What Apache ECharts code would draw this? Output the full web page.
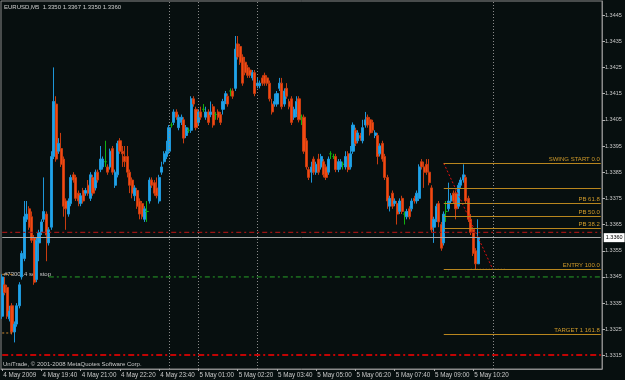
<!DOCTYPE html>
<html><head><meta charset="utf-8">
<script src="https://cdn.jsdelivr.net/npm/echarts@6/dist/echarts.min.js"></script>
<style>html,body{margin:0;padding:0;background:#070f0f;}#c{width:625px;height:380px;}</style>
</head><body><div id="c"></div>
<script>
// ---- data ----
const tickLabels = ['4 May 2009','4 May 19:40','4 May 21:00','4 May 22:20','4 May 23:40','5 May 01:00','5 May 02:20','5 May 03:40','5 May 05:00','5 May 06:20','5 May 07:40','5 May 09:00','5 May 10:20'];
const priceTicks = [1.3315,1.3325,1.3335,1.3345,1.3355,1.3365,1.3375,1.3385,1.3395,1.3405,1.3415,1.3425,1.3435,1.3445];

const openP = [1.3330,1.3342,1.3341,1.3329,1.3334,1.3324,1.3327,1.3334,1.3345,1.3352,1.3367,1.3371,1.3368,1.3360,1.3344,1.3358,1.3362,1.3367,1.3369,1.3358,
1.3364,1.3391,1.3411,1.3393,1.3394,1.3390,1.3374,1.3369,1.3373,1.3384,1.3383,1.3377,1.3373,1.3378,1.3377,1.3380,1.3375,1.3383,1.3379,1.3385,
1.3386,1.3387,1.3389,1.3387,1.3387,1.3394,1.3380,1.3384,1.3397,1.3393,1.3391,1.3391,1.3385,1.3382,1.3376,1.3378,1.3374,1.3373,1.3367,1.3370,
1.3374,1.3382,1.3381,1.3379,1.3374,1.3385,1.3389,1.3391,1.3393,1.3403,1.3404,1.3408,1.3402,1.3404,1.3405,1.3399,1.3401,1.3401,1.3413,1.3409,
1.3404,1.3408,1.3409,1.3406,1.3408,1.3407,1.3410,1.3407,1.3408,1.3407,1.3409,1.3412,1.3414,1.3416,1.3416,1.3417,1.3434,1.3433,1.3429,1.3427,
1.3425,1.3424,1.3421,1.3423,1.3418,1.3418,1.3421,1.3422,1.3421,1.3419,1.3411,1.3411,1.3411,1.3417,1.3419,1.3411,1.3417,1.3412,1.3413,1.3406,
1.3407,1.3413,1.3406,1.3406,1.3397,1.3386,1.3385,1.3390,1.3385,1.3390,1.3387,1.3389,1.3387,1.3385,1.3392,1.3391,1.3391,1.3386,1.3387,1.3388,
1.3387,1.3392,1.3387,1.3393,1.3401,1.3397,1.3399,1.3397,1.3403,1.3406,1.3405,1.3404,1.3399,1.3399,1.3392,1.3396,1.3391,1.3383,1.3372,1.3377,
1.3373,1.3373,1.3370,1.3375,1.3369,1.3368,1.3371,1.3371,1.3375,1.3374,1.3375,1.3389,1.3387,1.3388,1.3385,1.3379,1.3364,1.3367,1.3373,1.3365,
1.3358,1.3370,1.3371,1.3374,1.3377,1.3377,1.3372,1.3380,1.3382,1.3383,1.3375,1.3367,1.3363,1.3355,1.3350];
const closeP = [1.3345,1.3339,1.3330,1.3332,1.3324,1.3327,1.3334,1.3342,1.3354,1.3368,1.3369,1.3364,1.3359,1.3343,1.3359,1.3362,1.3366,1.3370,1.3361,1.3363,
1.3391,1.3412,1.3390,1.3396,1.3388,1.3372,1.3371,1.3374,1.3383,1.3382,1.3375,1.3374,1.3376,1.3374,1.3378,1.3377,1.3384,1.3377,1.3385,1.3382,
1.3390,1.3390,1.3389,1.3385,1.3393,1.3385,1.3385,1.3396,1.3393,1.3392,1.3389,1.3385,1.3380,1.3377,1.3379,1.3372,1.3369,1.3368,1.3371,1.3370,
1.3382,1.3380,1.3377,1.3376,1.3383,1.3387,1.3392,1.3393,1.3402,1.3403,1.3408,1.3406,1.3406,1.3406,1.3398,1.3402,1.3401,1.3413,1.3411,1.3402,
1.3408,1.3406,1.3409,1.3408,1.3404,1.3408,1.3403,1.3407,1.3406,1.3404,1.3412,1.3415,1.3411,1.3416,1.3414,1.3432,1.3429,1.3427,1.3419,1.3423,
1.3422,1.3422,1.3423,1.3415,1.3419,1.3419,1.3419,1.3419,1.3419,1.3413,1.3408,1.3412,1.3415,1.3419,1.3410,1.3416,1.3414,1.3410,1.3404,1.3409,
1.3412,1.3405,1.3406,1.3393,1.3387,1.3383,1.3387,1.3385,1.3388,1.3385,1.3391,1.3384,1.3383,1.3390,1.3392,1.3391,1.3386,1.3389,1.3389,1.3388,
1.3391,1.3386,1.3392,1.3403,1.3396,1.3400,1.3398,1.3402,1.3405,1.3403,1.3400,1.3401,1.3400,1.3391,1.3395,1.3390,1.3383,1.3374,1.3375,1.3372,
1.3374,1.3369,1.3374,1.3370,1.3369,1.3370,1.3368,1.3374,1.3374,1.3377,1.3387,1.3387,1.3385,1.3385,1.3381,1.3363,1.3367,1.3372,1.3366,1.3356,
1.3369,1.3370,1.3374,1.3376,1.3374,1.3371,1.3380,1.3382,1.3384,1.3374,1.3367,1.3362,1.3354,1.3350,1.3360];
const lowP = [1.3329,1.3338,1.3329,1.3328,1.3323,1.3320,1.3326,1.3333,1.3344,1.3351,1.3366,1.3363,1.3358,1.3342,1.3343,1.3351,1.3361,1.3366,1.3351,1.3357,
1.3363,1.3390,1.3389,1.3392,1.3387,1.3368,1.3363,1.3368,1.3372,1.3381,1.3374,1.3372,1.3372,1.3373,1.3376,1.3376,1.3374,1.3376,1.3378,1.3381,
1.3385,1.3386,1.3387,1.3384,1.3386,1.3384,1.3379,1.3383,1.3392,1.3387,1.3387,1.3383,1.3377,1.3375,1.3374,1.3371,1.3367,1.3367,1.3366,1.3366,
1.3373,1.3379,1.3376,1.3375,1.3373,1.3384,1.3388,1.3390,1.3392,1.3402,1.3403,1.3405,1.3401,1.3403,1.3396,1.3398,1.3400,1.3400,1.3410,1.3401,
1.3403,1.3405,1.3408,1.3405,1.3403,1.3406,1.3402,1.3405,1.3405,1.3403,1.3407,1.3411,1.3410,1.3414,1.3413,1.3416,1.3428,1.3426,1.3418,1.3422,
1.3421,1.3421,1.3420,1.3414,1.3417,1.3417,1.3418,1.3418,1.3418,1.3412,1.3407,1.3410,1.3410,1.3416,1.3409,1.3410,1.3413,1.3409,1.3403,1.3405,
1.3406,1.3404,1.3403,1.3392,1.3386,1.3382,1.3381,1.3384,1.3384,1.3384,1.3386,1.3383,1.3382,1.3384,1.3390,1.3390,1.3385,1.3385,1.3386,1.3386,
1.3386,1.3385,1.3386,1.3392,1.3395,1.3396,1.3397,1.3396,1.3402,1.3402,1.3399,1.3400,1.3398,1.3388,1.3391,1.3389,1.3382,1.3371,1.3370,1.3371,
1.3372,1.3365,1.3369,1.3369,1.3365,1.3367,1.3367,1.3370,1.3373,1.3373,1.3374,1.3386,1.3379,1.3384,1.3380,1.3362,1.3358,1.3366,1.3364,1.3355,
1.3357,1.3366,1.3370,1.3373,1.3373,1.3367,1.3371,1.3379,1.3381,1.3373,1.3366,1.3361,1.3353,1.3348,1.3350];
const highP = [1.3346,1.3345,1.3342,1.3334,1.3335,1.3328,1.3335,1.3343,1.3355,1.3374,1.3374,1.3372,1.3370,1.3361,1.3360,1.3363,1.3367,1.3383,1.3370,1.3364,
1.3393,1.3425,1.3414,1.3398,1.3400,1.3391,1.3375,1.3375,1.3384,1.3385,1.3384,1.3378,1.3377,1.3379,1.3379,1.3382,1.3385,1.3384,1.3386,1.3386,
1.3395,1.3391,1.3397,1.3388,1.3394,1.3395,1.3386,1.3397,1.3398,1.3395,1.3395,1.3395,1.3386,1.3383,1.3380,1.3379,1.3375,1.3374,1.3372,1.3374,
1.3383,1.3383,1.3382,1.3383,1.3384,1.3389,1.3393,1.3397,1.3403,1.3404,1.3409,1.3409,1.3407,1.3407,1.3406,1.3403,1.3402,1.3414,1.3414,1.3410,
1.3409,1.3410,1.3411,1.3410,1.3409,1.3412,1.3411,1.3408,1.3409,1.3408,1.3413,1.3416,1.3415,1.3417,1.3417,1.3437,1.3437,1.3434,1.3430,1.3429,
1.3426,1.3425,1.3424,1.3424,1.3421,1.3420,1.3422,1.3423,1.3422,1.3420,1.3413,1.3415,1.3416,1.3421,1.3421,1.3417,1.3419,1.3413,1.3414,1.3410,
1.3414,1.3414,1.3407,1.3407,1.3398,1.3387,1.3389,1.3391,1.3389,1.3392,1.3392,1.3390,1.3388,1.3391,1.3393,1.3392,1.3392,1.3390,1.3390,1.3389,
1.3393,1.3393,1.3395,1.3404,1.3402,1.3401,1.3400,1.3405,1.3408,1.3407,1.3406,1.3405,1.3401,1.3400,1.3396,1.3397,1.3392,1.3384,1.3376,1.3378,
1.3375,1.3374,1.3375,1.3376,1.3370,1.3371,1.3372,1.3375,1.3376,1.3378,1.3388,1.3390,1.3389,1.3390,1.3390,1.3380,1.3368,1.3373,1.3374,1.3366,
1.3370,1.3374,1.3381,1.3377,1.3378,1.3378,1.3381,1.3383,1.3388,1.3384,1.3376,1.3369,1.3364,1.3356,1.3367];

const N_SLOTS = 245;            // bar slots across the visible chart (incl. empty right margin)
const bidPrice = 1.3360;
const darkRedLevel = 1.3362;
const redLevel = 1.33152;
const sellStopPrice = 1.3345;
const orderTicket = '#730014 sell stop';
const fibPrices = [1.33884,1.33788,1.33731,1.33682,1.33636,1.33479,1.33231];
const fibLabels = ['SWING START 0.0','','PB 61.8','PB 50.0','PB 38.2','ENTRY 100.0','TARGET 1 161.8'];
const fibStartBar = 180;
const trendFrom = [180, 1.33884], trendTo = [200, 1.33479];
const entryDotted = [191, 205];
const vLines = [68, 80, 104, 200];
const titleText = 'EURUSD,M5  1.3350 1.3367 1.3350 1.3360';
const copyText = 'UniTrade, \u00a9 2001-2008 MetaQuotes Software Corp.';

// ---- build ----
const cats = [];
for (let i = 0; i < N_SLOTS; i++) cats.push(String(i));
const candles = openP.map((o, i) => [o, closeP[i], lowP[i], highP[i]]);
const LAST = N_SLOTS - 1;

const FONT = 'Liberation Sans';
const ml = [];
const seg = (x0, x1, v, style, label) => {
  const a = { coord: [String(x0), v], lineStyle: style };
  if (label) a.label = label;
  return [a, { coord: [String(x1), v] }];
};
ml.push(seg(0, LAST, bidPrice, { color: '#a8a8a8', type: 'solid', width: 1 },
  { show: true, position: 'end', formatter: bidPrice.toFixed(4), backgroundColor: '#ffffff', color: '#000000',
    fontSize: 5.5, fontFamily: FONT, padding: [2, 2, 1, 2], distance: 3 }));
fibPrices.forEach((p, k) => {
  ml.push(seg(fibStartBar, LAST, p, { color: '#b8861e', type: 'solid', width: 1 },
    { show: !!fibLabels[k], position: 'insideEndTop', formatter: fibLabels[k], color: '#d09a2a', fontSize: 6, fontFamily: FONT, distance: 1 }));
});
vLines.forEach(v => ml.push({ xAxis: String(v), lineStyle: { color: '#8a8a8a', type: [1, 2], width: 1 } }));

// straight line objects drawn as their own line series
const lineSeries = (pts, color, type, width) => ({
  type: 'line', data: pts.map(p => [String(p[0]), p[1]]), symbol: 'none', silent: true, z: 3,
  lineStyle: { color: color, type: type, width: width || 1 }, itemStyle: { color: color }, animation: false
});
const extra = [
  lineSeries([[0, darkRedLevel], [LAST, darkRedLevel]], '#9a1414', [5, 3, 2, 3], 1.2),
  lineSeries([[0, redLevel], [LAST, redLevel]], '#ff0000', [6, 3, 2, 3], 1.4),
  lineSeries([[19, sellStopPrice], [LAST, sellStopPrice]], '#28a028', [5, 3, 2, 3]),
  lineSeries([[0, sellStopPrice + 0.0001], [5, sellStopPrice + 0.0001]], '#d08a30', [2, 2]),
  lineSeries([[0, fibPrices[6] + 0.00005], [4, fibPrices[6] + 0.00005]], '#d08a30', [2, 2]),
  lineSeries([[entryDotted[0], fibPrices[5]], [entryDotted[1], fibPrices[5]]], '#f0c070', [1, 2]),
  lineSeries([trendFrom, trendTo], '#e01010', [2, 2])
];

const chart = echarts.init(document.getElementById('c'), null, { renderer: 'canvas' });
chart.setOption({
  backgroundColor: '#070f0f',
  animation: false,
  grid: { left: 1, top: 1, right: 23, bottom: 11, show: true, borderColor: '#8a8a8a', borderWidth: 1, containLabel: false },
  xAxis: {
    type: 'category', data: cats, boundaryGap: true,
    axisLine: { show: true, lineStyle: { color: '#8a8a8a' } },
    axisTick: { show: true, alignWithLabel: true, length: 2, interval: (i) => i % 16 === 0 && i / 16 < tickLabels.length, lineStyle: { color: '#b0b0b0' } },
    axisLabel: { show: true, interval: (i) => i % 16 === 0 && i / 16 < tickLabels.length, formatter: (v, i) => tickLabels[i / 16] || '',
      align: 'left', margin: 3, color: '#c8c8c8', fontSize: 6.3, fontFamily: FONT, padding: [0, 0, 0, 1] },
    splitLine: { show: false }
  },
  yAxis: {
    type: 'value', position: 'right', min: 1.330985, max: 1.345036, scale: true,
    axisLine: { show: true, lineStyle: { color: '#8a8a8a' } },
    axisTick: { show: true, length: 3, customValues: priceTicks, lineStyle: { color: '#b0b0b0' } },
    axisLabel: { show: true, customValues: priceTicks, formatter: (v) => v.toFixed(4), color: '#c8c8c8', fontSize: 5.5, fontFamily: FONT, margin: 3 },
    splitLine: { show: false }
  },
  series: [{
    type: 'candlestick', data: candles, barWidth: 2.6, silent: true,
    itemStyle: { color: '#1ea4ea', color0: '#f24a12', borderColor: '#1e96d8', borderColor0: '#c83c10', borderColorDoji: '#10b010', borderWidth: 1 },
    markLine: { symbol: ['none', 'none'], silent: true, animation: false, label: { show: false }, data: ml }
  }].concat(extra),
  graphic: [
    { type: 'text', left: 4, top: 4, style: { text: titleText, fill: '#cfcfcf', fontSize: 6, fontFamily: FONT } },
    { type: 'text', left: 4, top: 271, style: { text: orderTicket, fill: '#c8c8c8', fontSize: 6, fontFamily: FONT } },
    { type: 'text', left: 3, top: 361, style: { text: copyText, fill: '#c8c8c8', fontSize: 6, fontFamily: FONT } }
  ]
});
</script></body></html>
